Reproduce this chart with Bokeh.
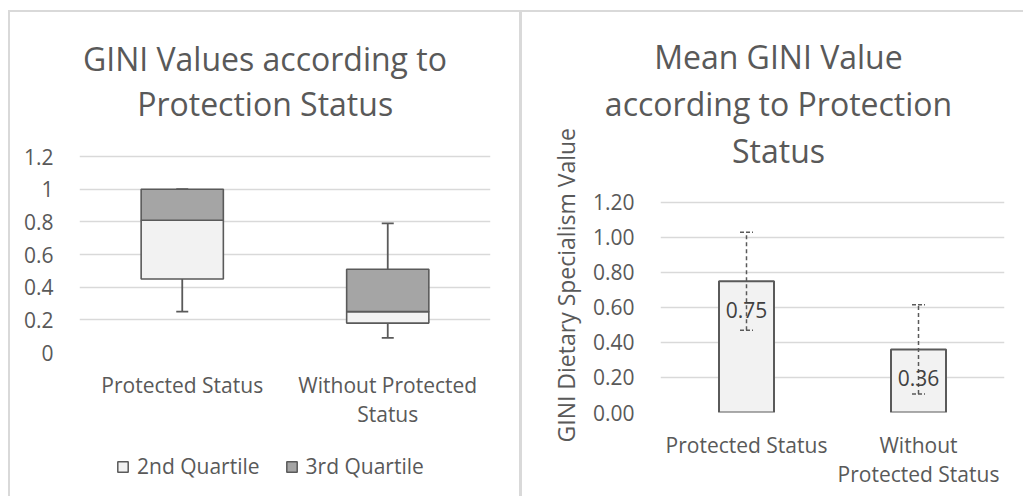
from bokeh.plotting import figure
from bokeh.models import Legend, LegendItem, FactorRange, Range1d, FixedTicker, Title
from bokeh.layouts import row, column
from bokeh.embed import file_html
from bokeh.resources import INLINE
from bokeh.core.properties import value

# ---------------- data ----------------
categories = ["Protected Status", "Without Protected Status"]
box_tick_labels = ["Protected Status", "Without Protected\nStatus"]
bar_tick_labels = ["Protected Status", "Without\nProtected Status"]

box_min = [0.25, 0.09]
box_q1 = [0.45, 0.18]
box_median = [0.81, 0.25]
box_q3 = [1.00, 0.51]
box_max = [1.00, 0.79]

mean_gini = [0.75, 0.36]
mean_err = [0.28, 0.255]

left_y_ticks = [0, 0.2, 0.4, 0.6, 0.8, 1.0, 1.2]
left_y_labels = ["0", "0.2", "0.4", "0.6", "0.8", "1", "1.2"]
right_y_ticks = [0, 0.2, 0.4, 0.6, 0.8, 1.0, 1.2]
right_y_labels = ["0.00", "0.20", "0.40", "0.60", "0.80", "1.00", "1.20"]

left_title = ["GINI Values according to", "Protection Status"]
right_title = ["Mean GINI Value", "according to Protection", "Status"]
right_y_label = "GINI Dietary Specialism Value"
legend_labels = ["2nd Quartile", "3rd Quartile"]

# ---------------- style ----------------
FONT = "Open Sans"
TXT = "#595959"
GRID = "#d9d9d9"
EDGE = "#5a5a5a"
LIGHT = "#f2f2f2"
DARK = "#a5a5a5"
TITLE_PX = 32
WHITE_BG = {"background-color": "white"}

# approximate Open Sans advance widths (units per 2048 em), used to centre titles
ADV = {" ": 532, "G": 1491, "I": 571, "N": 1544, "V": 1219, "M": 1849, "P": 1233,
       "S": 1124, "a": 1139, "c": 975, "d": 1255, "e": 1149, "g": 1122, "i": 518,
       "l": 518, "n": 1257, "o": 1237, "r": 836, "s": 977, "t": 723, "u": 1257}


def text_w(s, px):
    return sum(ADV.get(ch, 1100) for ch in s) * px / 2048.0


def style(p, ticks, labels):
    p.frame_align = False
    p.background_fill_color = "white"
    p.border_fill_color = "white"
    p.outline_line_color = None
    p.xgrid.visible = False
    p.ygrid.grid_line_color = GRID
    p.ygrid.grid_line_width = 1.3
    p.yaxis.ticker = FixedTicker(ticks=ticks)
    p.yaxis.major_label_overrides = {t: l for t, l in zip(ticks, labels)}
    for ax in (p.xaxis[0], p.yaxis[0]):
        ax.axis_line_color = None
        ax.major_tick_line_color = None
        ax.minor_tick_line_color = None
        ax.major_label_text_font = FONT
        ax.major_label_text_color = TXT
    p.yaxis.major_label_text_font_size = "21px"
    p.yaxis.major_label_standoff = 20
    p.xaxis.major_label_text_font_size = "21px"
    p.xaxis.major_label_standoff = 12
    p.xaxis.major_label_text_line_height = 1.05


def add_titles(p, lines, centre_from_frame_left, standoff):
    # Titles stack outward from the frame, so add the last line first
    for txt in reversed(lines):
        p.add_layout(Title(text=txt, align="left",
                           offset=centre_from_frame_left - text_w(txt, TITLE_PX) / 2,
                           standoff=standoff, text_font=FONT,
                           text_font_size=f"{TITLE_PX}px",
                           text_font_style="normal", text_color=TXT), "above")


# ---------------- left: box plot ----------------
p1 = figure(width=509, height=428, x_range=FactorRange(factors=box_tick_labels),
            y_range=Range1d(0, 1.396), output_backend="svg", toolbar_location=None,
            title=None, min_border_left=69, min_border_right=29, min_border_top=112,
            min_border_bottom=88, styles=WHITE_BG)
style(p1, left_y_ticks, left_y_labels)

p1.segment(x0=box_tick_labels, y0=box_min, x1=box_tick_labels, y1=box_q1,
           line_color=EDGE, line_width=1.8)
p1.segment(x0=box_tick_labels, y0=box_q3, x1=box_tick_labels, y1=box_max,
           line_color=EDGE, line_width=1.8)
p1.scatter(x=box_tick_labels + box_tick_labels, y=box_min + box_max, marker="dash",
           size=12, line_color=EDGE, line_width=1.8)
p1.vbar(x=box_tick_labels, bottom=box_q1, top=box_median, width=0.4,
        fill_color=LIGHT, line_color=EDGE, line_width=1.6)
p1.vbar(x=box_tick_labels, bottom=box_median, top=box_q3, width=0.4,
        fill_color=DARK, line_color=EDGE, line_width=1.6)
add_titles(p1, left_title, 185.5, 0)

# legend strip under the box plot: same two series as legend sources (not drawn)
pl = figure(width=509, height=56, x_range=FactorRange(factors=box_tick_labels),
            y_range=Range1d(0, 1.2), x_axis_type=None, y_axis_type=None,
            output_backend="svg", toolbar_location=None, title=None,
            min_border=0, styles=WHITE_BG)
pl.frame_align = False
pl.grid.visible = False
pl.outline_line_color = None
pl.background_fill_color = "white"
pl.border_fill_color = "white"
lq2 = pl.vbar(x=box_tick_labels, bottom=box_q1, top=box_median, width=0.4,
              fill_color=LIGHT, line_color=EDGE, line_width=1.5)
lq3 = pl.vbar(x=box_tick_labels, bottom=box_median, top=box_q3, width=0.4,
              fill_color=DARK, line_color=EDGE, line_width=1.5)
lq2.visible = False
lq3.visible = False
legend = Legend(items=[LegendItem(label=legend_labels[0], renderers=[lq2]),
                       LegendItem(label=legend_labels[1], renderers=[lq3])],
                orientation="horizontal", location=(106, 16), click_policy="none",
                inactive_fill_alpha=0,
                border_line_color=None, background_fill_alpha=0,
                padding=0, margin=0, spacing=25, glyph_width=13, glyph_height=13,
                label_standoff=8, label_text_font=FONT, label_text_font_size="21px",
                label_text_color=TXT)
pl.add_layout(legend)

# ---------------- right: bar chart ----------------
p2 = figure(width=501, height=484, x_range=FactorRange(factors=bar_tick_labels),
            y_range=Range1d(0, 1.3714), output_backend="svg", toolbar_location=None,
            title=None, min_border_left=138, min_border_right=19, min_border_top=160,
            min_border_bottom=84, margin=(2, 0, 0, 0), styles=WHITE_BG)
style(p2, right_y_ticks, right_y_labels)

p2.vbar(x=bar_tick_labels, top=mean_gini, width=0.32, fill_color=LIGHT,
        line_color=EDGE, line_width=2)
err_lo = [m - e for m, e in zip(mean_gini, mean_err)]
err_hi = [m + e for m, e in zip(mean_gini, mean_err)]
p2.segment(x0=bar_tick_labels, y0=err_lo, x1=bar_tick_labels, y1=err_hi,
           line_color=EDGE, line_width=1.5, line_dash="4 3")
p2.scatter(x=bar_tick_labels + bar_tick_labels, y=err_lo + err_hi, marker="dash",
           size=13, line_color=EDGE, line_width=1.5, line_dash="4 2")
p2.text(x=bar_tick_labels, y=mean_gini, text=[f"{v:.2f}" for v in mean_gini],
        text_align="center", text_baseline="middle", y_offset=29,
        text_font=value(FONT), text_font_size="21px", text_color="#404040")
add_titles(p2, right_title, 118, 2)

p2.add_layout(Title(text=right_y_label, align="left", offset=-30, standoff=16,
                    text_font=FONT, text_font_size="23px", text_font_style="normal",
                    text_color=TXT), "left")

left_col = column(p1, pl, spacing=0, margin=(2, 0, 0, 2), styles=WHITE_BG)
layout = row(left_col, p2, spacing=3, margin=(10, 0, 0, 8),
             styles={"background-color": GRID})

open("out.html", "w").write(file_html(layout, INLINE))
